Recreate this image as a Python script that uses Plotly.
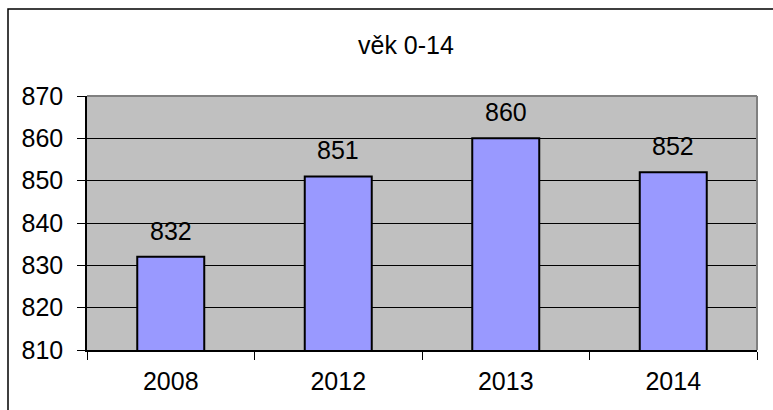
import plotly.graph_objects as go

categories = ["2008", "2012", "2013", "2014"]
values = [832, 851, 860, 852]
title_text = "věk 0-14"
y_ticks = [810, 820, 830, 840, 850, 860, 870]

W, H = 773, 410
L, R, T, B = 87, 16, 96, 60
pw, ph = W - L - R, H - T - B

def px_x(p):
    return (p - L) / pw

def px_y(p):
    return (H - B - p) / ph

FONT = "Liberation Sans, Arial, sans-serif"

fig = go.Figure()
fig.add_trace(go.Bar(
    x=categories, y=values,
    marker=dict(color="#9999FF", line=dict(color="black", width=2)),
    hoverinfo="skip",
))

for i, v in enumerate(values):
    fig.add_annotation(x=i, y=v, text=str(v), showarrow=False,
                       yanchor="bottom", yshift=10,
                       font=dict(family=FONT, size=25, color="black"))

fig.add_annotation(xref="paper", yref="paper", x=px_x(406), y=px_y(45),
                   text=title_text, showarrow=False, xanchor="center", yanchor="middle",
                   font=dict(family=FONT, size=25, color="black"))

# plot area top/right border (gray)
fig.add_shape(type="line", xref="paper", yref="paper", x0=0, x1=1, y0=1, y1=1,
              line=dict(color="#808080", width=2), layer="above")
fig.add_shape(type="line", xref="paper", yref="paper", x0=1, x1=1, y0=0, y1=1,
              line=dict(color="#808080", width=2), layer="above")
# outer chart border
fig.add_shape(type="rect", xref="paper", yref="paper",
              x0=px_x(8), x1=px_x(790), y0=px_y(9), y1=px_y(430),
              line=dict(color="black", width=1.5), layer="above")

fig.update_layout(
    width=W, height=H,
    margin=dict(l=L, r=R, t=T, b=B, autoexpand=False),
    paper_bgcolor="white", plot_bgcolor="#C0C0C0",
    bargap=0.6, showlegend=False,
    font=dict(family=FONT, size=25, color="black"),
)
fig.update_xaxes(
    type="category", categoryorder="array", categoryarray=categories,
    range=[-0.5, len(categories) - 0.5], autorange=False, automargin=False,
    tickangle=0, ticklabelstandoff=8,
    showgrid=False, showline=True, linecolor="black", linewidth=1.5,
    ticks="outside", tickson="boundaries", ticklen=8, tickcolor="black",
    tickfont=dict(family=FONT, size=25, color="black"),
)
fig.update_yaxes(
    range=[810, 870], autorange=False, automargin=False,
    tickvals=y_ticks, showgrid=True, gridcolor="black", gridwidth=1,
    ticklabelstandoff=9,
    showline=True, linecolor="black", linewidth=1.5, zeroline=False,
    ticks="outside", ticklen=8, tickcolor="black",
    tickfont=dict(family=FONT, size=25, color="black"),
)

fig.write_html("out.html", config={"displayModeBar": False},
               post_script="document.body.style.margin='0';")
